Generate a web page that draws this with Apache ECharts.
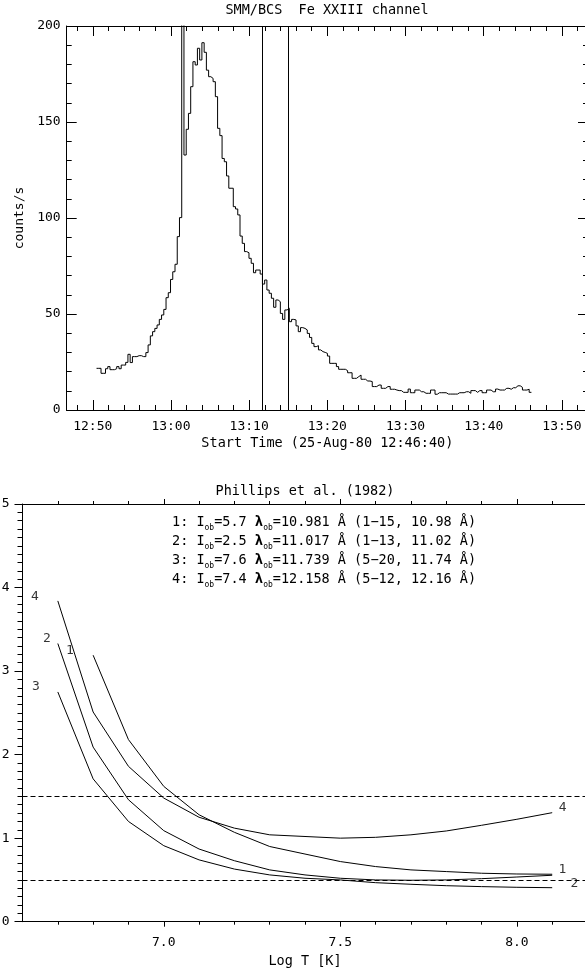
<!DOCTYPE html>
<html>
<head>
<meta charset="utf-8">
<script src="https://cdn.jsdelivr.net/npm/echarts@6/dist/echarts.min.js"></script>
<style>
html, body { margin: 0; padding: 0; background: #fff; }
#main { width: 585px; height: 978px; }
</style>
</head>
<body>
<div id="main"></div>
<script>
var FONT = 'DejaVu Sans Mono';
var INK = '#000';

// ---- upper panel: SMM/BCS Fe XXIII count rate, time in seconds after 12:46:40
var binStart = 229;     // first bin start (s)
var binWidth = 17.2;    // bin length (s)
var counts = [
    21.7, 21.7, 19.1, 19.1, 21.5, 22.6, 21, 21, 21.5, 22.6,
    21.5, 23.4, 23.4, 24.8, 29, 24.7, 27.8, 27.8, 28.3, 28.3,
    27.8, 27.8, 29.9, 33.9, 38.6, 40.8, 42.5, 44.3, 47.2, 49.5,
    52.4, 58.5, 61.1, 68, 72, 75.9, 90.3, 100.2, 250, 132.8,
    146.2, 154.5, 168.4, 181.4, 179.7, 188.4, 182.3, 191.3, 186.3, 177,
    173.6, 172.7, 171, 163.2, 146.7, 142.9, 131, 129.3, 121.9, 115.5,
    115.5, 105.9, 104.7, 101.6, 90.6, 86.8, 82.5, 81.9, 79, 76.4,
    71.5, 72.9, 72.9, 70.8, 65.6, 67.7, 62.5, 60.8, 58.2, 53.5,
    57.3, 56.4, 50.3, 47.2, 52.1, 53, 46, 47.2, 46.9, 43.8,
    40.8, 42.9, 42.5, 41.7, 39.9, 37.8, 34.7, 33, 33.5, 31.3,
    30.4, 30, 29.5, 28.1, 24.3, 24.3, 24.3, 22.6, 21.2, 21.2,
    21.2, 20.5, 19.4, 19.4, 16.5, 16.5, 17.4, 18.2, 16, 16,
    15.1, 15.1, 14.8, 12.2, 12.2, 13, 13, 11.3, 11.3, 12.2,
    12.2, 10.8, 10.8, 10.4, 10.1, 10.1, 9.2, 9.2, 9.2, 10.9,
    9, 9, 10.4, 10.4, 9.5, 9.5, 8.7, 8.7, 8.7, 10.4,
    10.4, 8.2, 9, 9, 9, 9, 8.3, 8.3, 8.3, 8.3,
    8.3, 9, 9, 9, 9.5, 9.5, 8.7, 10.1, 10.1, 9.2,
    10.1, 10.1, 9, 9, 10.4, 10.4, 9.5, 9.5, 10.9, 10.4,
    10.4, 10.4, 11.3, 11.3, 10.8, 11.6, 11.6, 12.6, 12.6, 11.8,
    10.4, 10.4, 10.8, 9.2
];
var markTimes = [1500, 1700];
var timeMin = 0, timeMax = 4000;
var timeMajor = [200, 800, 1400, 2000, 2600, 3200, 3800];   // 12:50 ... 13:50
var countMin = 0, countMax = 200, countStep = 50;

// ---- lower panel: Phillips et al. (1982) ratios vs log T
var logT = [6.7, 6.8, 6.9, 7.0, 7.1, 7.2, 7.3, 7.4, 7.5, 7.6, 7.7, 7.8, 7.9, 8.0, 8.1];
var ratio1 = [null, 3.19, 2.18, 1.62, 1.28, 1.07, 0.90, 0.81, 0.72, 0.66, 0.62, 0.60, 0.58, 0.571, 0.568];
var ratio2 = [3.33, 2.09, 1.46, 1.09, 0.87, 0.73, 0.62, 0.56, 0.52, 0.50, 0.496, 0.50, 0.515, 0.535, 0.556];
var ratio3 = [2.75, 1.71, 1.20, 0.91, 0.74, 0.63, 0.56, 0.52, 0.50, 0.467, 0.448, 0.431, 0.42, 0.412, 0.407];
var ratio4 = [3.84, 2.51, 1.86, 1.48, 1.25, 1.12, 1.04, 1.02, 1.00, 1.01, 1.04, 1.086, 1.154, 1.226, 1.305];
var thresholds = [1.5, 0.5];
var curveTags = [
    [6.635, 3.89, '4'], [6.669, 3.39, '2'], [6.734, 3.25, '1'], [6.638, 2.81, '3'],
    [8.130, 1.36, '4'], [8.129, 0.62, '1'], [8.163, 0.46, '2']
];
var logMin = 6.6, logMax = 8.2;
var logMajor = [7.0, 7.5, 8.0];
var ratioMin = 0, ratioMax = 5;

var legendLines = [
    '1: I{sub|ob}=5.7 {lam|λ}{sub|ob}=10.981 Å (1−15, 10.98 Å)',
    '2: I{sub|ob}=2.5 {lam|λ}{sub|ob}=11.017 Å (1−13, 11.02 Å)',
    '3: I{sub|ob}=7.6 {lam|λ}{sub|ob}=11.739 Å (5−20, 11.74 Å)',
    '4: I{sub|ob}=7.4 {lam|λ}{sub|ob}=12.158 Å (5−12, 12.16 Å)'
];

// tick positions
var timeMinor = [];
for (var t = 80; t < timeMax; t += 120) timeMinor.push(t);
var logMinor = [];
for (var k = 67; k <= 81; k++) logMinor.push(k / 10);

function clock(sec) {
    var total = 12 * 3600 + 46 * 60 + 40 + sec;
    var h = Math.floor(total / 3600);
    var m = Math.round((total % 3600) / 60);
    return h + ':' + (m < 10 ? '0' + m : m);
}

var txt = { color: INK, fontFamily: FONT, fontSize: 13 };
var txtBig = { color: INK, fontFamily: FONT, fontSize: 13.5 };

// one x axis layer (line + ticks [+ labels])
function xLayer(grid, pos, min, max, ticks, len, inside, label) {
    var ax = {
        gridIndex: grid, type: 'value', position: pos, min: min, max: max,
        axisLine: { show: true, onZero: false, lineStyle: { color: INK, width: 1 } },
        axisTick: { show: true, inside: inside, length: len, customValues: ticks, lineStyle: { color: INK, width: 1 } },
        axisLabel: { show: false },
        splitLine: { show: false },
        axisPointer: { show: false }
    };
    if (label) {
        ax.axisLabel = Object.assign({ show: true }, txt, label);
    }
    return ax;
}

var hist = [];
for (var i = 0; i < counts.length; i++) {
    hist.push([binStart + i * binWidth, counts[i]]);
}
hist.push([binStart + counts.length * binWidth, counts[counts.length - 1]]);

function pairs(vals) {
    var out = [];
    for (var i = 0; i < logT.length; i++) out.push([logT[i], vals[i]]);
    return out;
}

var xAxes = [
    // upper panel
    Object.assign(xLayer(0, 'bottom', timeMin, timeMax, timeMinor, 5, true,
        { customValues: timeMajor, formatter: clock, margin: 10 }), {
        name: 'Start Time (25-Aug-80 12:46:40)', nameLocation: 'middle', nameGap: 26,
        nameMoveOverlap: false, nameTextStyle: txtBig
    }),
    xLayer(0, 'bottom', timeMin, timeMax, timeMajor, 10, true),
    xLayer(0, 'top', timeMin, timeMax, timeMinor, 5, true),
    xLayer(0, 'top', timeMin, timeMax, timeMajor, 10, true),
    // lower panel
    Object.assign(xLayer(1, 'bottom', logMin, logMax, logMinor, 3, false,
        { customValues: logMajor, formatter: function (v) { return v.toFixed(1); }, margin: 14 }), {
        name: 'Log T [K]', nameLocation: 'middle', nameGap: 33,
        nameMoveOverlap: false, nameTextStyle: txtBig
    }),
    xLayer(1, 'bottom', logMin, logMax, logMajor, 5, false),
    xLayer(1, 'top', logMin, logMax, logMinor, 3, false),
    xLayer(1, 'top', logMin, logMax, logMajor, 5, false)
];

function yLayer(grid, pos, min, max, step, len, minorN, minorLen, inside, label) {
    var ax = {
        gridIndex: grid, type: 'value', position: pos, min: min, max: max, interval: step,
        axisLine: { show: true, onZero: false, lineStyle: { color: INK, width: 1 } },
        axisTick: { show: true, inside: inside, length: len, lineStyle: { color: INK, width: 1 } },
        minorTick: { show: true, splitNumber: minorN, length: minorLen, lineStyle: { color: INK, width: 1 } },
        axisLabel: { show: false },
        splitLine: { show: false },
        minorSplitLine: { show: false },
        axisPointer: { show: false }
    };
    if (label) ax.axisLabel = Object.assign({ show: true }, txt, label);
    return ax;
}

var yAxes = [
    Object.assign(yLayer(0, 'left', countMin, countMax, countStep, 10, 5, 5, true, { margin: 6 }), {
        name: 'counts/s', nameLocation: 'middle', nameGap: 41, nameRotate: 90,
        nameMoveOverlap: false, nameTextStyle: txt
    }),
    yLayer(0, 'right', countMin, countMax, countStep, 10, 5, 5, true),
    yLayer(1, 'left', ratioMin, ratioMax, 1, 8, 10, 5, false, { margin: 13 }),
    yLayer(1, 'right', ratioMin, ratioMax, 1, 8, 10, 5, false)
];

function curve(vals) {
    return {
        type: 'line', xAxisIndex: 4, yAxisIndex: 2, data: pairs(vals),
        showSymbol: false, symbol: 'none', connectNulls: false, silent: true,
        lineStyle: { color: INK, width: 1 }
    };
}

var myChart = echarts.init(document.getElementById('main'), null, { renderer: 'canvas' });

var option = {
    animation: false,
    backgroundColor: '#fff',
    grid: [
        { left: 66.7, top: 26, width: 521.3, height: 384, outerBoundsMode: 'none' },
        { left: 22.5, top: 504, width: 565, height: 417.7, outerBoundsMode: 'none' }
    ],
    xAxis: xAxes,
    yAxis: yAxes,
    graphic: [
        {
            type: 'text', x: 327, y: 10,
            style: { text: 'SMM/BCS  Fe XXIII channel', fill: INK, fontFamily: FONT, fontSize: 13.5, textAlign: 'center', textVerticalAlign: 'middle' }
        },
        {
            type: 'text', x: 305, y: 491,
            style: { text: 'Phillips et al. (1982)', fill: INK, fontFamily: FONT, fontSize: 13.5, textAlign: 'center', textVerticalAlign: 'middle' }
        },
        {
            type: 'text', x: 172, y: 513,
            style: {
                text: legendLines.join('\n'), fill: INK, fontFamily: FONT, fontSize: 13.5, lineHeight: 19,
                rich: {
                    sub: { fill: INK, fontFamily: FONT, fontSize: 8, verticalAlign: 'bottom' },
                    lam: { fill: INK, fontFamily: FONT, fontSize: 14, fontWeight: 'bold' }
                }
            }
        }
    ],
    series: [
        {
            type: 'line', xAxisIndex: 0, yAxisIndex: 0, data: hist, step: 'end',
            showSymbol: false, symbol: 'none', silent: true, clip: true,
            lineStyle: { color: INK, width: 1 },
            markLine: {
                silent: true, symbol: ['none', 'none'], label: { show: false },
                lineStyle: { color: INK, width: 1, type: 'solid' },
                data: markTimes.map(function (v) { return { xAxis: v }; })
            }
        },
        Object.assign(curve(ratio1), {
            markLine: {
                silent: true, symbol: ['none', 'none'], label: { show: false },
                lineStyle: { color: INK, width: 1, type: [5, 3] },
                data: thresholds.map(function (v) { return { yAxis: v }; })
            }
        }),
        curve(ratio2),
        curve(ratio3),
        curve(ratio4),
        {
            type: 'scatter', xAxisIndex: 4, yAxisIndex: 2, data: curveTags,
            symbolSize: 1, silent: true, itemStyle: { color: 'transparent' },
            label: {
                show: true, position: 'inside', color: INK, fontFamily: FONT, fontSize: 13,
                formatter: function (p) { return p.value[2]; }
            }
        }
    ]
};

myChart.setOption(option);
</script>
</body>
</html>
